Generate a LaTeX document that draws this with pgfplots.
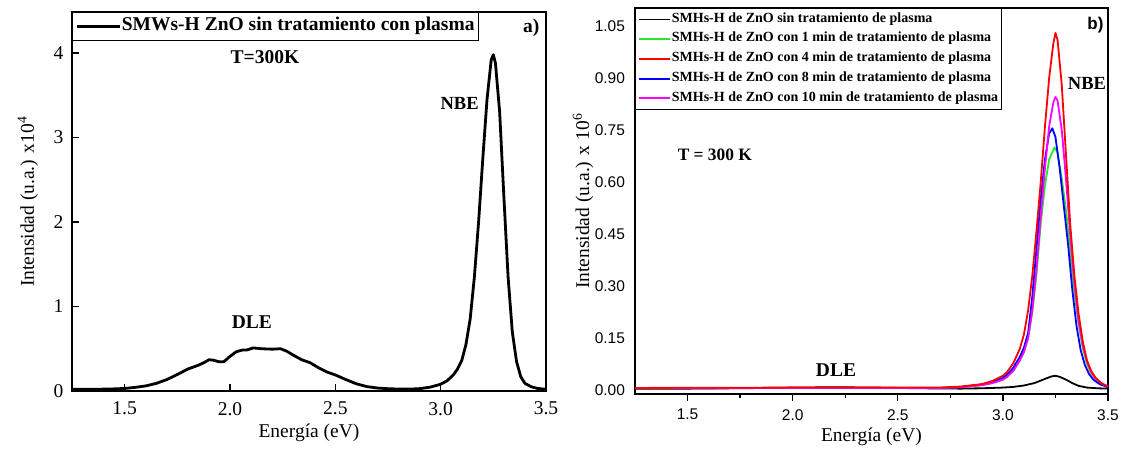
\documentclass[border=0pt]{standalone}
\usepackage{pgfplots}
\pgfplotsset{compat=1.18}
\usepackage{fontspec}
\setmainfont{Liberation Serif}
\newfontfamily\arialfont{Liberation Sans}

\definecolor{cgreen}{RGB}{40,230,40}
\definecolor{cred}{RGB}{255,0,0}
\definecolor{cblue}{RGB}{0,0,255}
\definecolor{cmag}{RGB}{255,0,255}

\begin{document}
\begin{tikzpicture}
\useasboundingbox (0,0) rectangle (561.5pt,227pt);

% ---------- a) sin tratamiento ----------
\begin{axis}[
  at={(36pt,31.5pt)}, anchor=south west,
  scale only axis, width=237pt, height=189.5pt,
  xmin=1.25, xmax=3.5, ymin=0, ymax=4.485,
  clip=false,
  xtick={1.5,2,2.5,3,3.5}, ytick={0,1,2,3,4},
  tick align=inside, tick pos=left, major tick length=3.5pt,
  axis line style={line width=0.8pt},
  tick style={line width=0.7pt, black},
  /pgf/number format/assume math mode=true,
  ticklabel style={font=\fontsize{9.75}{11}\selectfont},
  xticklabel style={/pgf/number format/fixed, /pgf/number format/fixed zerofill, /pgf/number format/precision=1},
  xticklabel shift=2pt, yticklabel shift=0.8pt,
  label style={font=\fontsize{9.75}{11}\selectfont},
  xlabel={Energía (eV)},
  ylabel={Intensidad (u.a.) x10\textsuperscript{4}},
  xlabel style={at={(axis description cs:0.5,-0.11)}, anchor=center},
  ylabel style={at={(axis description cs:-0.093,0.5)}, anchor=center},
  legend style={at={(0,1)}, anchor=north west, draw=black, line width=0.5pt,
    font=\bfseries\fontsize{9.75}{11}\selectfont,
    inner xsep=1.5pt, inner ysep=1.75pt,
    nodes={inner xsep=0.3pt, inner ysep=0pt, text height=7.5pt, text depth=3pt},
    cells={anchor=west}},
  legend image code/.code={\draw[#1, line width=1.4pt] (0pt,0pt) -- (21.5pt,0pt);},
]
\addplot[black, line width=1.4pt, line join=round] table {
1.25 0.020
1.30 0.020
1.35 0.021
1.40 0.022
1.45 0.025
1.50 0.030
1.55 0.043
1.60 0.060
1.65 0.090
1.70 0.135
1.75 0.195
1.80 0.260
1.85 0.305
1.88 0.340
1.90 0.370
1.92 0.365
1.95 0.345
1.97 0.345
2.00 0.410
2.03 0.465
2.06 0.485
2.08 0.485
2.11 0.510
2.15 0.500
2.20 0.495
2.24 0.500
2.27 0.470
2.30 0.425
2.34 0.370
2.38 0.335
2.42 0.275
2.46 0.225
2.50 0.190
2.55 0.135
2.60 0.085
2.65 0.052
2.70 0.035
2.75 0.027
2.80 0.023
2.85 0.022
2.90 0.028
2.95 0.045
3.00 0.080
3.03 0.120
3.06 0.190
3.08 0.260
3.10 0.360
3.12 0.550
3.14 0.850
3.16 1.350
3.18 2.000
3.20 2.750
3.22 3.450
3.24 3.920
3.25 3.980
3.26 3.880
3.28 3.300
3.30 2.300
3.32 1.350
3.34 0.700
3.36 0.350
3.38 0.170
3.40 0.090
3.43 0.050
3.46 0.030
3.50 0.020
};
\addlegendentry{SMWs-H ZnO sin tratamiento con plasma}

\node[font=\bfseries\fontsize{9.75}{11}\selectfont] at (axis cs:2.166,3.95) {T=300K};
\node[font=\bfseries\fontsize{9.25}{11}\selectfont] at (axis cs:3.09,3.40) {NBE};
\node[font=\bfseries\fontsize{9.75}{11}\selectfont] at (axis cs:2.104,0.82) {DLE};
\node[font=\bfseries\fontsize{9.75}{11}\selectfont] at (axis cs:3.43,4.30) {a)};
\end{axis}

% ---------- b) con tratamiento de plasma ----------
\begin{axis}[
  at={(317.5pt,30pt)}, anchor=south west,
  scale only axis, width=236.5pt, height=193pt,
  xmin=1.25, xmax=3.5, ymin=-0.0115, ymax=1.102,
  clip=false,
  xtick={1.5,2,2.5,3,3.5}, minor xtick={1.75,2.25,2.75,3.25},
  ytick={0,0.15,0.30,0.45,0.60,0.75,0.90,1.05},
  tick align=outside, tick pos=left,
  major tick length=3.5pt, minor tick length=2pt,
  ytick style={draw=none},
  axis line style={line width=0.8pt},
  xtick style={line width=0.7pt, black},
  minor tick style={line width=0.7pt, black},
  /pgf/number format/assume math mode=true,
  ticklabel style={font=\arialfont\fontsize{7.75}{9}\selectfont},
  xticklabel style={/pgf/number format/fixed, /pgf/number format/fixed zerofill, /pgf/number format/precision=1},
  yticklabel style={/pgf/number format/fixed, /pgf/number format/fixed zerofill, /pgf/number format/precision=2},
  xticklabel shift=0.6pt, yticklabel shift=-2pt,
  label style={font=\fontsize{9.75}{11}\selectfont},
  xlabel={Energía (eV)},
  ylabel={Intensidad (u.a.) x 10\textsuperscript{6}},
  xlabel style={at={(axis description cs:0.5,-0.11)}, anchor=center},
  ylabel style={at={(axis description cs:-0.11,0.5)}, anchor=center},
  legend style={at={(0,1)}, anchor=north west, draw=black, line width=0.5pt,
    font=\bfseries\fontsize{7}{8}\selectfont,
    inner xsep=1.5pt, inner ysep=0.6pt,
    nodes={inner xsep=0.3pt, inner ysep=0pt, text height=6.3pt, text depth=3.55pt},
    cells={anchor=west}},
  legend image code/.code={\draw[#1, line width=0.9pt] (0pt,0pt) -- (15.5pt,0pt);},
  every axis plot/.append style={line width=0.9pt, line join=round},
]
\addlegendimage{black}
\addlegendentry{SMHs-H de ZnO sin tratamiento de plasma}
\addlegendimage{cgreen}
\addlegendentry{SMHs-H de ZnO con 1 min de tratamiento de plasma}
\addlegendimage{cred}
\addlegendentry{SMHs-H de ZnO con 4 min de tratamiento de plasma}
\addlegendimage{cblue}
\addlegendentry{SMHs-H de ZnO con 8 min de tratamiento de plasma}
\addlegendimage{cmag}
\addlegendentry{SMHs-H de ZnO con 10 min de tratamiento de plasma}

% sin tratamiento
\addplot[black, forget plot] table {
1.25 0.004
1.50 0.004
1.75 0.005
2.00 0.007
2.20 0.008
2.40 0.007
2.60 0.005
2.80 0.004
2.90 0.005
3.00 0.007
3.05 0.009
3.10 0.013
3.15 0.020
3.20 0.032
3.23 0.039
3.25 0.041
3.27 0.038
3.30 0.030
3.33 0.020
3.36 0.012
3.40 0.007
3.45 0.005
3.50 0.004
};
% 1 min
\addplot[cgreen, forget plot] table {
1.25 0.005
2.00 0.006
2.50 0.006
2.70 0.006
2.80 0.008
2.90 0.014
2.95 0.020
3.00 0.030
3.02 0.038
3.05 0.056
3.08 0.085
3.10 0.110
3.12 0.150
3.14 0.225
3.16 0.335
3.18 0.480
3.20 0.590
3.22 0.665
3.245 0.700
3.26 0.685
3.28 0.610
3.30 0.520
3.32 0.400
3.34 0.280
3.36 0.190
3.38 0.120
3.40 0.075
3.42 0.048
3.44 0.032
3.47 0.018
3.50 0.010
};
% 8 min
\addplot[cblue, forget plot] table {
1.25 0.005
2.00 0.006
2.50 0.006
2.70 0.006
2.80 0.009
2.90 0.016
2.95 0.024
3.00 0.035
3.02 0.044
3.05 0.065
3.08 0.095
3.10 0.122
3.12 0.165
3.14 0.270
3.16 0.410
3.18 0.550
3.20 0.665
3.22 0.740
3.235 0.755
3.25 0.730
3.27 0.640
3.29 0.530
3.31 0.420
3.33 0.290
3.35 0.185
3.37 0.115
3.39 0.072
3.41 0.046
3.43 0.030
3.46 0.017
3.50 0.008
};
% 10 min
\addplot[cmag, forget plot] table {
1.25 0.005
2.00 0.006
2.50 0.006
2.70 0.006
2.80 0.008
2.90 0.014
2.95 0.020
3.00 0.030
3.02 0.038
3.05 0.056
3.08 0.085
3.10 0.110
3.12 0.150
3.14 0.230
3.16 0.350
3.18 0.500
3.20 0.640
3.22 0.760
3.24 0.830
3.25 0.845
3.26 0.835
3.28 0.750
3.30 0.610
3.32 0.450
3.34 0.310
3.36 0.200
3.38 0.130
3.40 0.082
3.42 0.052
3.44 0.034
3.47 0.019
3.50 0.011
};
% 4 min
\addplot[cred, forget plot] table {
1.25 0.006
2.00 0.007
2.50 0.007
2.70 0.007
2.80 0.010
2.90 0.017
2.95 0.026
3.00 0.041
3.02 0.052
3.05 0.078
3.08 0.118
3.10 0.160
3.12 0.230
3.14 0.330
3.16 0.460
3.18 0.600
3.20 0.760
3.22 0.900
3.24 1.000
3.25 1.030
3.26 1.010
3.28 0.880
3.30 0.680
3.32 0.480
3.34 0.330
3.36 0.220
3.38 0.140
3.40 0.085
3.42 0.055
3.44 0.036
3.46 0.024
3.48 0.015
3.50 0.010
};

\node[font=\bfseries\fontsize{8.7}{10}\selectfont] at (axis cs:1.63,0.678) {T = 300 K};
\node[font=\bfseries\fontsize{9.25}{11}\selectfont] at (axis cs:3.40,0.883) {NBE};
\node[font=\bfseries\fontsize{9.75}{11}\selectfont] at (axis cs:2.206,0.058) {DLE};
\node[font=\arialfont\bfseries\fontsize{8.5}{10}\selectfont] at (axis cs:3.44,1.053) {b)};
\end{axis}
\end{tikzpicture}
\end{document}
